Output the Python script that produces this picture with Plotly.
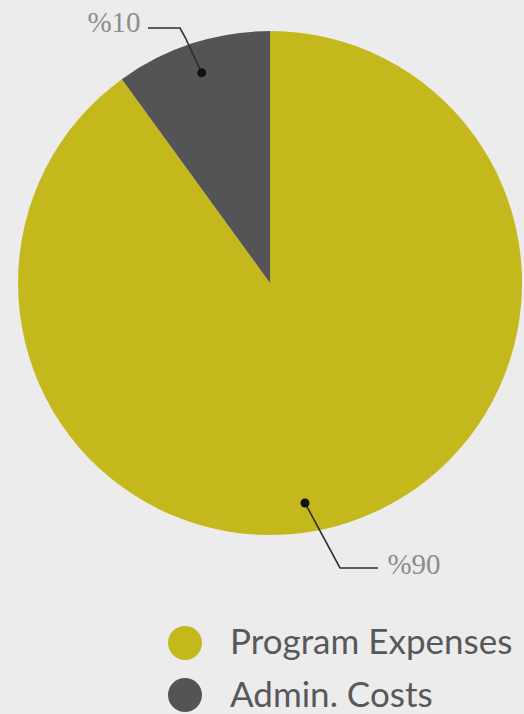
import plotly.graph_objects as go
import math

labels = ["Program Expenses", "Admin. Costs"]
values = [90, 10]
colors = ["#c4b81c", "#545457"]
pct_text = ["%90", "%10"]

W, H = 524, 714
BG = "#ececec"
cx, cy, R = 270, 283, 252

fig = go.Figure()
fig.add_trace(go.Pie(
    labels=labels, values=values, sort=False, direction="clockwise", rotation=0,
    marker=dict(colors=colors, line=dict(width=0)),
    textinfo="none", hoverinfo="label+percent", showlegend=False,
    domain=dict(x=[(cx - R) / W, (cx + R) / W], y=[(H - cy - R) / H, (H - cy + R) / H]),
))

# admin dot at the middle angle of its slice
total = sum(values)
mid_admin = 2 * math.pi * (values[0] + values[1] / 2) / total
ax = cx + 0.877 * R * math.sin(mid_admin)
ay = cy - 0.877 * R * math.cos(mid_admin)
px, py = 305, 503

lines = [
    [(px, py), (340, 568), (378, 568)],
    [(ax, ay), (185, 37), (180, 28), (148, 28)],
]
shapes = []
for pts in lines:
    path = "M " + " L ".join(f"{x},{y}" for x, y in pts)
    shapes.append(dict(type="path", path=path, xref="x", yref="y", layer="above",
                       line=dict(color="#2e2e2e", width=1.6)))
for (x, y) in [(px, py), (ax, ay)]:
    r = 4.5
    shapes.append(dict(type="circle", xref="x", yref="y", layer="above",
                       x0=x - r, x1=x + r, y0=y - r, y1=y + r,
                       fillcolor="#111", line=dict(width=0)))

# percent labels
fig.add_trace(go.Scatter(x=[414, 114], y=[567, 25], mode="text", text=pct_text,
                         textfont=dict(family="Liberation Serif", size=29, color="#8c8c8c"),
                         showlegend=False, hoverinfo="skip"))

# legend
leg_y = [643, 695]
fig.add_trace(go.Scatter(x=[185, 185], y=leg_y, mode="markers",
                         marker=dict(color=colors, size=34),
                         showlegend=False, hoverinfo="skip"))
fig.add_trace(go.Scatter(x=[230, 230], y=[645, 698], mode="text", text=labels,
                         textposition="middle right",
                         textfont=dict(family="Lato", size=35, color="#58585a"),
                         showlegend=False, hoverinfo="skip"))

fig.update_layout(
    width=W, height=H, margin=dict(l=0, r=0, t=0, b=0),
    paper_bgcolor=BG, plot_bgcolor=BG, shapes=shapes,
    xaxis=dict(range=[0, W], visible=False, fixedrange=True),
    yaxis=dict(range=[H, 0], visible=False, fixedrange=True),
)
fig.write_html("out.html", config={"displayModeBar": False},
               post_script="document.body.style.margin='0';document.body.style.background='#ececec';")
